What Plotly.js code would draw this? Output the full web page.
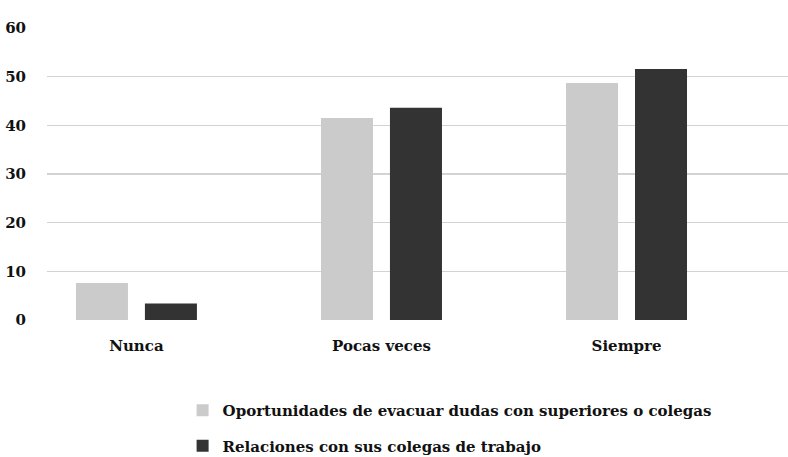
<!DOCTYPE html>
<html>
<head>
<meta charset="utf-8">
<script src="https://cdn.plot.ly/plotly-3.0.1.min.js"></script>
<style>html,body{margin:0;padding:0;background:#fff}#chart{width:788px;height:457px}</style>
</head>
<body>
<div id="chart"></div>
<script>
var categories = ["Nunca", "Pocas veces", "Siempre"];
var seriesNames = ["Oportunidades de evacuar dudas con superiores o colegas", "Relaciones con sus colegas de trabajo"];
var oportunidades = [7.6, 41.5, 48.7];
var relaciones = [3.4, 43.6, 51.6];
var yTicks = [0, 10, 20, 30, 40, 50, 60];

var FONT = "DejaVu Serif";
var data = [
  {type: "bar", x: categories, y: oportunidades, name: seriesNames[0], marker: {color: "#cbcbcb"}, legendgroup: "a", hoverinfo: "none"},
  {type: "bar", x: categories, y: relaciones, name: seriesNames[1], marker: {color: "#333333"}, legendgroup: "b", hoverinfo: "none"}
];
var layout = {
  width: 788, height: 457,
  margin: {l: 47, r: 0, t: 28, b: 137},
  paper_bgcolor: "#fff", plot_bgcolor: "#fff",
  font: {family: FONT, size: 15, color: "#111"},
  barmode: "group", bargap: 0.437, bargroupgap: 0.246,
  showlegend: true,
  legend: {x: 0.183, y: 0.138, yref: "container", xanchor: "left", yanchor: "top", orientation: "v", tracegroupgap: 13, font: {family: FONT, size: 15, color: "#111", weight: "bold"}},
  xaxis: {type: "category", range: [-0.365, 2.659], showgrid: false, zeroline: false, showline: false, ticks: "", ticklabelstandoff: 15, tickfont: {family: FONT, size: 15, weight: "bold", color: "#111"}},
  yaxis: {range: [0, 60], tickvals: yTicks, showgrid: true, gridcolor: "#d3d3d3", gridwidth: 1.5, zeroline: false, showline: false, ticks: "", ticklabelstandoff: 20, tickfont: {family: FONT, size: 15, weight: "bold", color: "#111"}}
};
Plotly.newPlot("chart", data, layout, {displayModeBar: false, staticPlot: true});
</script>
</body>
</html>
